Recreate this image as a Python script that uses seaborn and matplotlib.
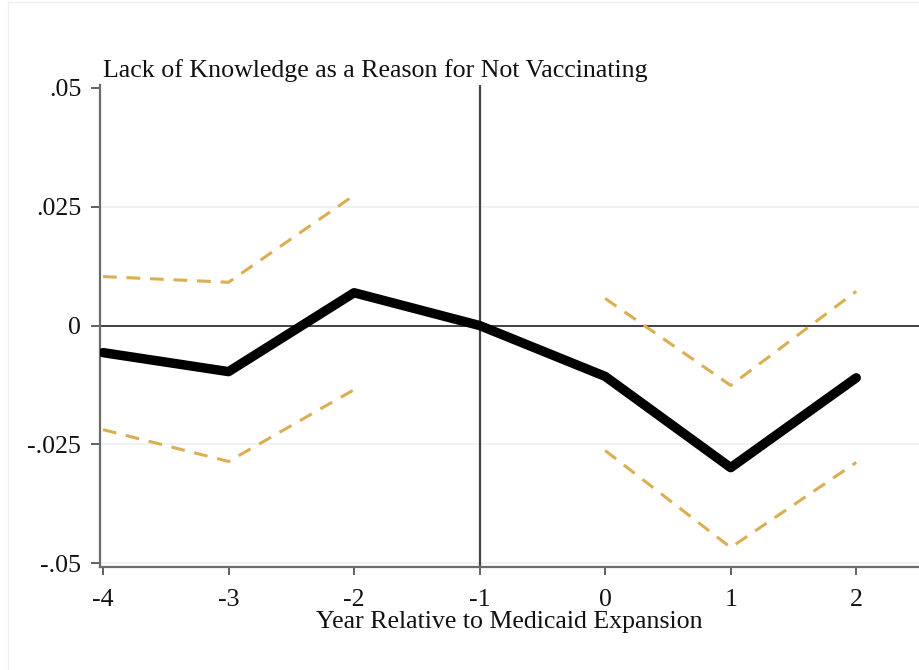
import matplotlib
matplotlib.use("Agg")
import matplotlib.pyplot as plt
import seaborn as sns
import pandas as pd
import numpy as np

# Event-study estimates: lack of knowledge as a reason for not vaccinating
years = [-4, -3, -2, -1, 0, 1, 2]
coef = [-0.0057, -0.0097, 0.0069, 0.0, -0.0107, -0.0299, -0.0110]

# 95% confidence bounds, drawn separately before and after the reference year
pre_years = [-4, -3, -2]
pre_upper = [0.0103, 0.0091, 0.0274]
pre_lower = [-0.0219, -0.0286, -0.0135]
post_years = [0, 1, 2]
post_upper = [0.0057, -0.0126, 0.0072]
post_lower = [-0.0263, -0.0467, -0.0288]

y_ticks = [-0.05, -0.025, 0, 0.025, 0.05]
y_tick_labels = ["-.05", "-.025", "0", ".025", ".05"]

title = "Lack of Knowledge as a Reason for Not Vaccinating"
xlabel = "Year Relative to Medicaid Expansion"

sns.set_theme(style="white")
plt.rcParams["font.family"] = ["Liberation Serif", "DejaVu Serif"]

FS = 18.6

fig = plt.figure(figsize=(9.19, 6.70), dpi=100)
ax = fig.add_axes([100 / 919, 1 - 567 / 670, 1 - 100 / 919, (567 - 85) / 670])

ci_color = "#dcae52"
for xs, ys in [(pre_years, pre_upper), (pre_years, pre_lower),
               (post_years, post_upper), (post_years, post_lower)]:
    sns.lineplot(x=xs, y=ys, ax=ax, color=ci_color, lw=2.2,
                 linestyle=(0, (4.5, 3.2)), zorder=3)

sns.lineplot(x=years, y=coef, ax=ax, color="black", lw=6.8, zorder=4,
             solid_capstyle="round", solid_joinstyle="round")

# reference lines
ax.axhline(0, color="#333333", lw=1.3, zorder=2)
ax.axvline(-1, color="#444444", lw=1.6, zorder=2)

ax.set_xlim(-4.024, 2.5)
ax.set_ylim(-0.0508, 0.0506)

ax.set_yticks(y_ticks)
ax.set_yticklabels(y_tick_labels)
ax.set_xticks(years)
ax.set_xticklabels([str(y) for y in years])

for yv in [-0.05, -0.025, 0.025]:
    ax.axhline(yv, color="#eaf2f2", lw=1.3, zorder=1)

for side in ["top", "right"]:
    ax.spines[side].set_visible(False)
for side in ["left", "bottom"]:
    ax.spines[side].set_color("#6b6b6b")
    ax.spines[side].set_linewidth(1.6)

ax.tick_params(axis="both", which="major", bottom=True, left=True,
               direction="out", width=1.3, color="#555555",
               labelsize=FS, labelcolor="#111111")
ax.tick_params(axis="y", length=6.5, pad=7)
ax.tick_params(axis="x", length=6, pad=10)

ax.set_xlabel(xlabel, fontsize=FS, color="#111111", labelpad=0)
ax.set_ylabel("")
ax.set_title(title, loc="left", fontsize=FS, color="#111111", pad=5.5, x=0.004)

# faint frame around the figure
fig.add_artist(plt.Line2D([8 / 919, 8 / 919], [0, 1 - 2 / 670], transform=fig.transFigure,
                          color="#f0f0f0", lw=1))
fig.add_artist(plt.Line2D([8 / 919, 1], [1 - 2 / 670, 1 - 2 / 670], transform=fig.transFigure,
                          color="#f0f0f0", lw=1))

fig.savefig("out.png", dpi=100)
